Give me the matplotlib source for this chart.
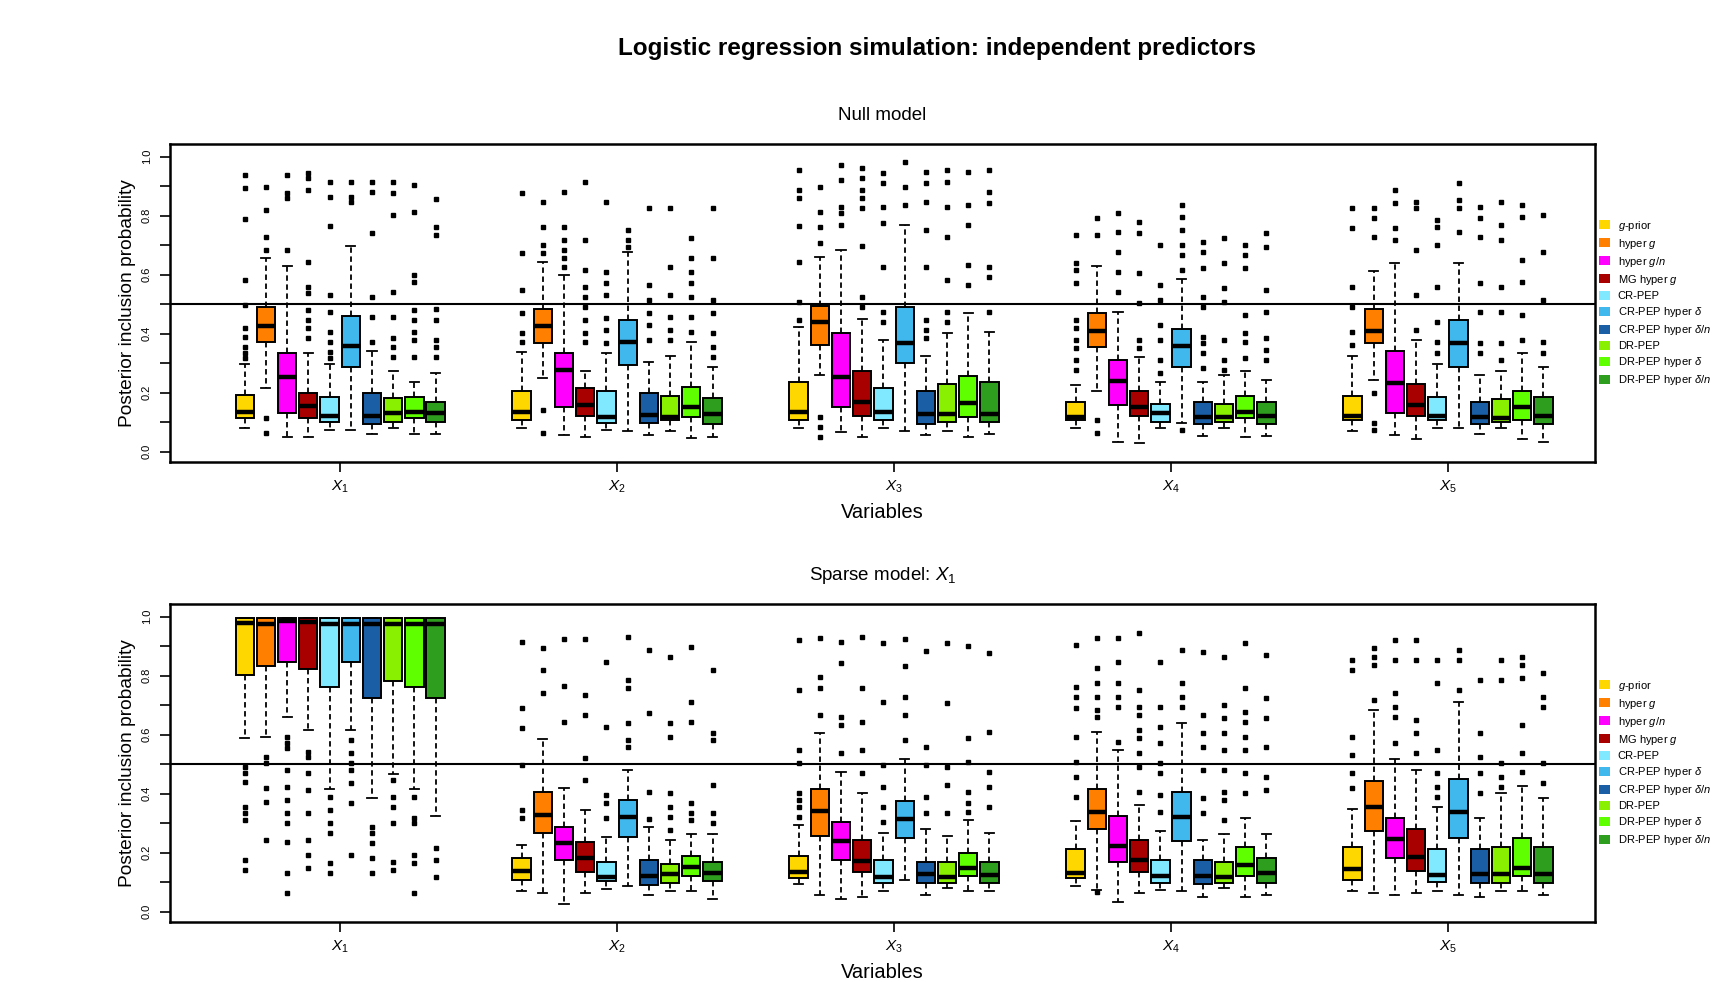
import matplotlib
matplotlib.use("Agg")
import matplotlib.pyplot as plt
from matplotlib.patches import Patch

plt.rcParams["font.family"] = ["Liberation Sans", "DejaVu Sans"]
plt.rcParams["mathtext.fontset"] = "custom"
plt.rcParams["mathtext.rm"] = "Liberation Sans"
plt.rcParams["mathtext.it"] = "Liberation Sans:italic"

methods = [r"$g$-prior", r"hyper $g$", r"hyper $g/n$", r"MG hyper $g$", "CR-PEP",
           r"CR-PEP hyper $\delta$", r"CR-PEP hyper $\delta/n$", "DR-PEP",
           r"DR-PEP hyper $\delta$", r"DR-PEP hyper $\delta/n$"]
colors = ["#FFD700", "#FF7F00", "#FF00FF", "#A80000", "#80E8FF",
          "#40B8EE", "#1A5FA5", "#88F000", "#60FF00", "#2E9E1E"]
variables = [r"$X_1$", r"$X_2$", r"$X_3$", r"$X_4$", r"$X_5$"]

# ---- Null model: rows = variables, columns = methods ----
null_q1 = [[.115, .371, .130, .115, .099, .286, .093, .099, .115, .099],
           [.107, .369, .153, .121, .098, .294, .098, .107, .116, .093],
           [.107, .362, .153, .122, .107, .302, .093, .099, .116, .099],
           [.107, .354, .158, .122, .099, .286, .093, .099, .115, .093],
           [.107, .369, .130, .122, .107, .286, .093, .099, .107, .093]]
null_med = [[.136, .426, .254, .156, .121, .358, .121, .132, .136, .130],
            [.136, .426, .277, .158, .119, .373, .124, .119, .153, .127],
            [.136, .441, .254, .169, .136, .369, .127, .127, .164, .127],
            [.119, .410, .241, .153, .132, .359, .119, .119, .136, .122],
            [.121, .410, .232, .158, .121, .369, .119, .115, .153, .122]]
null_q3 = [[.192, .492, .333, .200, .184, .461, .198, .183, .184, .169],
           [.207, .482, .333, .215, .207, .446, .198, .190, .220, .183],
           [.235, .495, .401, .273, .215, .492, .207, .228, .258, .235],
           [.167, .469, .311, .207, .162, .416, .167, .160, .190, .167],
           [.190, .482, .341, .228, .184, .446, .169, .177, .207, .184]]
null_lo = [[.079, .215, .051, .051, .073, .073, .059, .081, .059, .059],
           [.079, .251, .056, .051, .073, .071, .056, .071, .045, .051],
           [.082, .260, .066, .051, .082, .071, .056, .071, .051, .059],
           [.079, .207, .034, .028, .079, .096, .053, .081, .051, .053],
           [.071, .243, .056, .043, .079, .079, .059, .081, .043, .034]]
null_hi = [[.296, .655, .631, .333, .296, .697, .341, .275, .235, .266],
           [.339, .644, .600, .273, .333, .678, .305, .324, .371, .288],
           [.421, .661, .684, .450, .379, .768, .324, .401, .469, .405],
           [.226, .629, .475, .320, .237, .584, .235, .260, .273, .243],
           [.324, .614, .638, .379, .297, .638, .260, .275, .333, .288]]
null_fliers = [
    [[.938, .895, .789, .582, .497, .418, .39, .356, .333, .316],
     [.898, .819, .729, .684, .113, .064],
     [.938, .876, .859, .684],
     [.944, .927, .887, .644, .559, .537, .48, .446, .418, .384],
     [.915, .862, .765, .531, .475, .407, .373, .339, .316],
     [.915, .864, .847],
     [.915, .881, .742, .525, .458, .373],
     [.915, .878, .802, .542, .458, .384, .356, .322],
     [.904, .814, .599, .576, .480, .446, .407, .379, .322],
     [.855, .763, .734, .482, .446, .379, .356, .322]],
    [[.876, .672, .548, .469, .401, .373],
     [.847, .760, .701, .672, .141, .062],
     [.881, .760, .718, .684, .655, .627],
     [.915, .718, .616, .559, .525, .492, .446, .401, .373],
     [.847, .610, .571, .531, .452, .412, .367],
     [.751, .718, .695],
     [.825, .565, .514, .469, .429, .379],
     [.825, .627, .531, .458, .412, .379],
     [.723, .655, .610, .571, .525, .458, .407],
     [.825, .655, .514, .469, .401, .356, .322]],
    [[.955, .887, .859, .765, .644, .508, .446],
     [.898, .814, .763, .706, .119, .085, .051],
     [.972, .921, .831, .808, .768],
     [.960, .927, .887, .859, .825, .697, .525, .492],
     [.944, .910, .831, .774, .627, .475, .441],
     [.983, .898, .836],
     [.949, .910, .847, .751, .627, .446, .412, .384],
     [.955, .915, .831, .729, .582, .475, .441],
     [.947, .836, .768, .633, .565],
     [.955, .881, .842, .627, .593, .475]],
    [[.734, .638, .616, .571, .446, .418, .379, .350, .311, .277],
     [.791, .734, .107, .062],
     [.808, .746, .678, .610, .542],
     [.780, .740, .605, .503, .379, .350],
     [.701, .565, .514, .429, .379, .311, .266],
     [.836, .797, .751, .701, .667, .616, .073],
     [.712, .678, .621, .525, .492, .390, .367, .333, .282],
     [.723, .638, .554, .508, .379, .311, .277],
     [.701, .667, .621, .463, .401, .373, .316],
     [.740, .695, .548, .475, .384, .345, .311]],
    [[.825, .757, .559, .492, .407, .362],
     [.825, .791, .729, .198, .096, .073],
     [.887, .842, .757, .718],
     [.847, .825, .684, .531, .412],
     [.785, .763, .701, .559, .441, .373, .333],
     [.910, .853, .825, .746],
     [.831, .791, .729, .571, .475, .367, .333],
     [.847, .768, .718, .559, .475, .367, .311],
     [.836, .797, .650, .576, .463, .379],
     [.802, .678, .514, .373, .333]],
]

# ---- Sparse model X1 ----
sparse_q1 = [[.802, .831, .845, .823, .763, .847, .725, .782, .763, .725],
             [.107, .266, .175, .136, .105, .254, .090, .098, .121, .104],
             [.115, .256, .175, .136, .098, .249, .098, .098, .121, .098],
             [.115, .279, .167, .136, .098, .241, .093, .098, .122, .098],
             [.107, .273, .183, .138, .099, .249, .098, .098, .121, .098]]
sparse_med = [[.977, .975, .986, .983, .975, .975, .975, .975, .975, .975],
              [.138, .328, .232, .181, .119, .322, .121, .127, .153, .130],
              [.136, .342, .240, .172, .119, .314, .128, .119, .149, .124],
              [.132, .337, .224, .175, .121, .320, .121, .119, .158, .130],
              [.144, .356, .246, .186, .124, .337, .127, .127, .149, .127]]
sparse_q3 = [[.994, .994, .994, .994, .994, .994, .994, .994, .994, .994],
             [.183, .405, .286, .235, .167, .379, .175, .160, .190, .167],
             [.190, .415, .303, .243, .175, .376, .167, .167, .198, .167],
             [.212, .415, .324, .243, .175, .407, .175, .167, .220, .183],
             [.220, .443, .316, .279, .212, .450, .212, .220, .251, .220]]
sparse_lo = [[.588, .593, .661, .616, .415, .616, .384, .467, .415, .324],
             [.071, .062, .026, .062, .077, .087, .056, .070, .071, .042],
             [.094, .056, .042, .051, .071, .107, .056, .079, .071, .071],
             [.088, .073, .034, .062, .073, .071, .051, .079, .051, .056],
             [.071, .062, .056, .064, .071, .056, .051, .071, .071, .056]]
sparse_hi = [[.994, .994, .994, .994, .994, .994, .994, .994, .994, .994],
             [.226, .584, .420, .345, .252, .480, .286, .243, .263, .263],
             [.294, .607, .472, .401, .266, .518, .279, .258, .311, .266],
             [.308, .608, .548, .362, .273, .638, .243, .263, .316, .263],
             [.347, .684, .518, .480, .354, .712, .316, .401, .427, .384]]
sparse_fliers = [
    [[.492, .469, .441, .356, .333, .311, .175, .141],
     [.525, .503, .418, .373, .243],
     [.593, .571, .554, .480, .424, .379, .333, .299, .237, .130, .062],
     [.542, .525, .469, .412, .333, .243, .192, .147],
     [.390, .345, .299, .266, .164, .130],
     [.582, .537, .503, .480, .435, .367, .192],
     [.288, .266, .232, .181, .130],
     [.446, .390, .356, .299, .169, .141],
     [.390, .316, .299, .192, .164, .062],
     [.215, .175, .119]],
    [[.915, .689, .621, .497, .345, .316],
     [.893, .819, .742],
     [.923, .765, .644],
     [.923, .734, .667, .520, .446],
     [.847, .627, .395, .367, .316],
     [.932, .785, .757, .638, .582, .559],
     [.887, .672, .407, .313],
     [.862, .638, .593, .401, .356, .322, .277],
     [.898, .712, .644, .367, .333, .311],
     [.819, .605, .582, .429, .333, .299]],
    [[.921, .751, .548, .503, .401, .379, .356, .322],
     [.927, .797, .757, .667],
     [.915, .842, .661, .633, .537],
     [.930, .757, .644, .548, .469],
     [.910, .712, .497, .424, .356, .305],
     [.923, .831, .729, .667, .582],
     [.885, .559, .497, .390, .333],
     [.910, .706, .492, .429, .333],
     [.901, .588, .508, .407, .367, .339],
     [.878, .610, .475, .424, .356]],
    [[.904, .763, .729, .689, .593, .508, .458, .390],
     [.927, .825, .774, .729, .684, .661, .068],
     [.927, .847, .774, .729, .695, .576],
     [.944, .751, .695, .667, .616, .588, .537, .492, .407],
     [.847, .695, .627, .571, .503, .469, .395, .339],
     [.887, .776, .729, .695],
     [.881, .667, .605, .559, .480, .384, .333],
     [.864, .701, .655, .605, .548, .480, .407, .379, .311],
     [.910, .757, .678, .644, .593, .548, .469, .401],
     [.870, .723, .655, .559, .458, .412]],
    [[.853, .819, .593, .531, .469, .418],
     [.893, .864, .836, .718],
     [.921, .853, .740, .695, .661, .571],
     [.921, .853, .650, .605, .537],
     [.853, .774, .548, .469, .424, .390],
     [.887, .853, .751],
     [.785, .605, .525, .469, .401],
     [.853, .785, .503, .458, .424],
     [.864, .836, .791, .633, .537, .475],
     [.808, .729, .695, .503, .435]],
]

step = 0.0766
width = 0.066


def draw_panel(ax, q1, med, q3, lo, hi, fliers):
    for j in range(len(methods)):
        stats = []
        pos = []
        for i in range(len(variables)):
            stats.append({"q1": q1[i][j], "med": med[i][j], "q3": q3[i][j],
                          "whislo": lo[i][j], "whishi": hi[i][j],
                          "fliers": fliers[i][j]})
            pos.append(i + 1 + (j - 4.5) * step)
        ax.bxp(stats, positions=pos, widths=width, patch_artist=True,
               capwidths=width * 0.5, manage_ticks=False,
               boxprops=dict(facecolor=colors[j], edgecolor="black", linewidth=1.4),
               medianprops=dict(color="black", linewidth=3.2),
               whiskerprops=dict(color="black", linestyle=(0, (3, 2)), linewidth=1.3),
               capprops=dict(color="black", linewidth=1.3),
               flierprops=dict(marker="s", markersize=3, markerfacecolor="black",
                               markeredgecolor="black"))
    ax.axhline(0.5, color="black", linewidth=1.5)
    ax.set_xlim(0.386, 5.531)
    ax.set_ylim(-0.035, 1.043)
    ax.set_xticks(range(1, 6))
    ax.set_xticklabels(variables, fontsize=11)
    ax.set_yticks([0.0, 0.2, 0.4, 0.6, 0.8, 1.0])
    ax.set_yticklabels(["0.0", "0.2", "0.4", "0.6", "0.8", "1.0"], rotation=90,
                       va="center", fontsize=8)
    ax.set_yticks([0.1, 0.3, 0.5, 0.7, 0.9], minor=True)
    ax.tick_params(axis="y", which="both", length=7, width=1.2, pad=6)
    ax.tick_params(axis="x", length=7, width=1.2, pad=5)
    for s in ax.spines.values():
        s.set_linewidth(1.8)
    ax.set_ylabel("Posterior inclusion probability", fontsize=13.8, labelpad=4)
    ax.set_xlabel("Variables", fontsize=14.5, labelpad=6)
    handles = [Patch(facecolor=c, edgecolor="none") for c in colors]
    ax.legend(handles, methods, loc="center left", bbox_to_anchor=(1.002, 0.5),
              frameon=False, fontsize=8, handlelength=1.0, handleheight=0.9,
              handletextpad=0.7, labelspacing=0.36, borderaxespad=0.0,
              borderpad=0.1)


def main():
    fig = plt.figure(figsize=(17.32, 9.82), dpi=100)
    ax1 = fig.add_axes([0.0982, 0.5295, 0.8227, 0.3239])
    ax2 = fig.add_axes([0.0982, 0.0611, 0.8227, 0.3239])
    draw_panel(ax1, null_q1, null_med, null_q3, null_lo, null_hi, null_fliers)
    draw_panel(ax2, sparse_q1, sparse_med, sparse_q3, sparse_lo, sparse_hi,
               sparse_fliers)
    ax1.set_title("Null model", fontsize=13.5, pad=17)
    ax2.set_title(r"Sparse model: $X_1$", fontsize=13.5, pad=17)
    fig.text(0.541, 0.951, "Logistic regression simulation: independent predictors",
             ha="center", va="center", fontsize=17.5, fontweight="bold")
    fig.savefig("out.png", dpi=100)


if __name__ == "__main__":
    main()
